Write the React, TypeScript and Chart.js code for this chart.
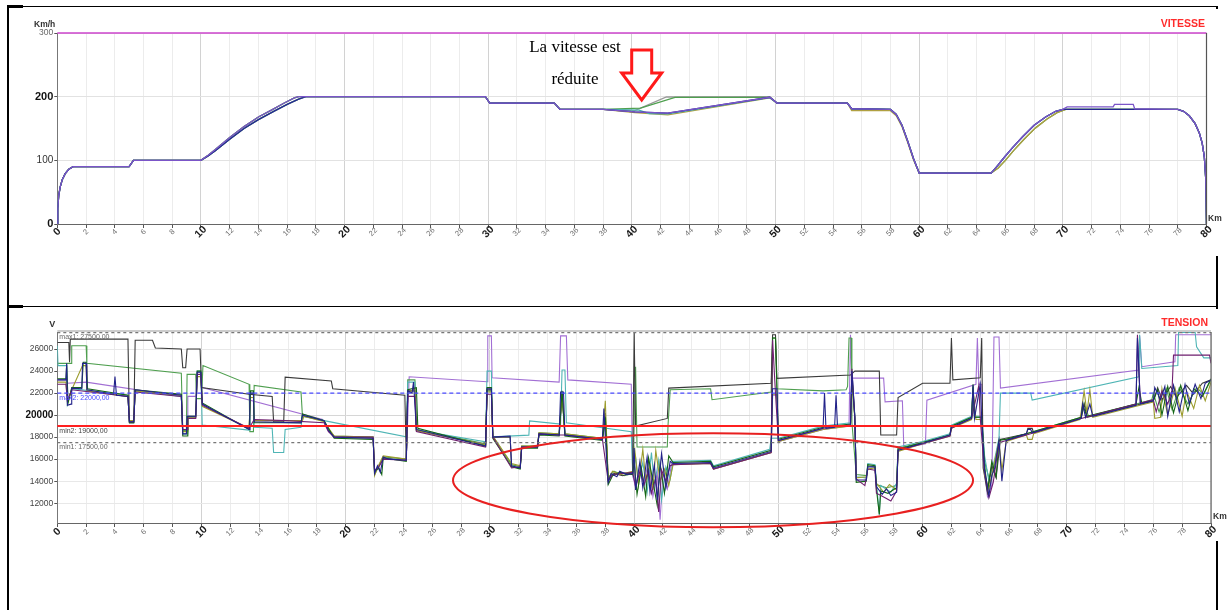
import React, { useEffect, useRef } from 'react';
import { Chart, registerables } from 'chart.js';

Chart.register(...registerables);
Chart.defaults.font.family = '"Liberation Sans", Arial, sans-serif';

// ---------- axes ----------
const kmTicks = [0, 2, 4, 6, 8, 10, 12, 14, 16, 18, 20, 22, 24, 26, 28, 30, 32, 34, 36, 38, 40, 42, 44, 46, 48, 50, 52, 54, 56, 58, 60, 62, 64, 66, 68, 70, 72, 74, 76, 78, 80];
const speedTicks = [0, 100, 200, 300];
const voltTicks = [12000, 14000, 16000, 18000, 20000, 22000, 24000, 26000];

// ---------- reference levels (tension) ----------
const refValues = [27500, 22000, 19000, 17500];
const refLabels = ['max1: 27500,00', 'max2: 22000,00', 'min2: 19000,00', 'min1: 17500,00'];

// ---------- highlighted zone (km, V) ----------
const zoneCenter = [45.47, 14090];
const zoneRadius = [18.03, 4270];

// ---------- speed profile segments (km, km/h) ----------
const speedStart = [[0, 0], [0.03, 25], [0.1, 45], [0.2, 58], [0.35, 70], [0.55, 79], [0.8, 86], [1.1, 90], [5.0, 90], [5.3, 100], [10.0, 100]];
const speedRampA = [[10.5, 108], [11, 117], [12, 136], [13, 153], [14, 168], [15, 180], [15.8, 190], [16.5, 198], [16.8, 200]];
const speedRampB = [[10.5, 107], [11, 115], [12, 133], [13, 150], [14, 164], [15, 176], [16, 188], [16.8, 196], [17.3, 200]];
const speedPlateau = [[29.8, 200], [30.1, 190], [34.6, 190], [35.0, 180], [38.0, 180]];
const speedMidMain = [[40.2, 176], [42.5, 174], [49.6, 199]];
const speedMidLow = [[40.2, 175], [42.5, 171.5], [49.6, 198]];
const speedMidGreen = [[40.6, 182], [43.0, 199], [49.6, 199]];
const speedMidGray = [[40.2, 178], [42.4, 199.5], [49.6, 200]];
const speedMidTeal = [[40.5, 179], [41.2, 173.5], [42.5, 173], [49.6, 198.5]];
const speedDecel = [[50.1, 190], [55.0, 190], [55.3, 181], [58.0, 180], [58.4, 172], [58.8, 155], [59.2, 130], [59.6, 103], [60.0, 80], [65.0, 80]];
const speedDecelLow = [[50.1, 190], [55.0, 190], [55.3, 178], [58.0, 178], [58.4, 170], [58.8, 153], [59.2, 128], [59.6, 101], [60.0, 80], [65.0, 80]];
const speedAccelA = [[65.4, 90], [65.9, 104], [66.5, 120], [67.2, 137], [68.0, 155], [68.8, 168], [69.5, 177], [70, 180]];
const speedAccelB = [[65.5, 88], [66, 100], [66.6, 116], [67.3, 133], [68.1, 151], [68.9, 165], [69.6, 175], [70.2, 180]];
const speedCruise = [[78, 180]];
const speedCruiseHigh = [[70.3, 184], [73.5, 184], [73.6, 188], [74.9, 188], [75.0, 181], [78, 180]];
const speedStop = [[78.4, 177], [78.8, 170], [79.2, 158], [79.5, 143], [79.7, 127], [79.85, 105], [79.95, 70], [80, 0]];

const speedPurple = [...speedStart, ...speedRampA, ...speedPlateau, ...speedMidMain, ...speedDecel, ...speedAccelA, ...speedCruiseHigh, ...speedStop];
const speedNavy = [...speedStart, ...speedRampB, ...speedPlateau, ...speedMidMain, ...speedDecel, ...speedAccelA, ...speedCruise, ...speedStop];
const speedTeal = [...speedStart, ...speedRampB, ...speedPlateau, ...speedMidTeal, ...speedDecel, ...speedAccelA, ...speedCruise, ...speedStop];
const speedOlive = [...speedStart, ...speedRampB, ...speedPlateau, ...speedMidLow, ...speedDecelLow, ...speedAccelB, ...speedCruise, ...speedStop];
const speedGreen = [...speedStart, ...speedRampA, ...speedPlateau, ...speedMidGreen, ...speedDecel, ...speedAccelB, ...speedCruise, ...speedStop];
const speedGray = [...speedStart, ...speedRampA, ...speedPlateau, ...speedMidGray, ...speedDecel, ...speedAccelA, ...speedCruise, ...speedStop];

// ---------- tension series (km, V) ----------
const vNavy = [[0, 23200], [0.6, 23200], [0.65, 24700], [0.7, 20900], [0.95, 21000], [1.0, 22450], [1.7, 22400], [1.75, 24700], [2.0, 24700], [2.05, 22300], [3.9, 21900], [4.0, 23500], [4.1, 21800], [4.9, 21700], [5.0, 19400], [5.3, 19400], [5.4, 22300], [8.6, 21800], [8.7, 18300], [8.95, 18300], [9.0, 19900], [9.6, 19900], [9.7, 23900], [9.95, 23900], [10.05, 21000], [13.3, 18700], [13.35, 22000], [13.6, 22000], [13.65, 19400], [16.9, 19300], [17.0, 20000], [18.5, 19500], [18.8, 18600], [19.2, 18000], [21.9, 17900], [22.0, 14700], [22.2, 15400], [22.4, 14800], [22.6, 16200], [23.0, 16000], [24.2, 15900], [24.3, 22200], [24.6, 22000], [24.7, 23000], [24.9, 18700], [29.7, 17200], [29.8, 22400], [30.1, 22400], [30.2, 18000], [31.4, 18100], [31.5, 15400], [32.1, 15200], [32.2, 17100], [33.3, 17100], [33.4, 18300], [34.8, 18200], [34.9, 22100], [35.1, 22100], [35.2, 18200], [37.8, 17800], [37.9, 20600], [38.0, 18000], [38.2, 13900], [38.4, 14700], [38.8, 14400], [39.0, 14900], [39.5, 14600], [39.9, 14700], [40.0, 17000], [40.1, 13200], [40.4, 15800], [40.6, 13400], [40.9, 16200], [41.1, 13000], [41.4, 15500], [41.6, 12300], [41.9, 16500], [42.2, 13400], [42.5, 15800], [42.7, 15600], [45.3, 15700], [45.5, 15200], [49.5, 16700], [49.6, 22400], [49.9, 22400], [50.0, 17700], [53.1, 18800], [53.2, 22000], [53.3, 18800], [53.9, 18900], [54.0, 21800], [54.1, 19000], [55.0, 19100], [55.1, 24000], [55.3, 19900], [55.4, 14100], [56.1, 14100], [56.2, 15300], [56.7, 15300], [56.8, 13500], [57.2, 12800], [57.5, 13300], [57.8, 12700], [58.2, 13000], [58.3, 16800], [60.0, 17450], [61.9, 18200], [62.0, 18900], [63.4, 19700], [63.5, 22700], [63.6, 19700], [64.0, 22800], [64.1, 19700], [64.3, 15000], [64.6, 12700], [64.8, 14500], [65.0, 15200], [65.3, 17700], [65.5, 14000], [65.8, 17700], [67.2, 18300], [67.3, 18700], [67.5, 18700], [67.6, 18400], [71.0, 19700], [71.1, 21000], [71.3, 19800], [71.6, 21000], [71.8, 19900], [74.8, 20900], [74.9, 27000], [75.1, 21000], [76.0, 21300], [76.1, 22500], [76.5, 21400], [76.8, 22600], [77.0, 19900], [77.4, 22700], [77.8, 20300], [78.2, 22800], [78.5, 21000], [78.9, 22800], [79.3, 21500], [79.6, 22900], [80.0, 23200]];

const vOlive = [[0, 23000], [0.6, 23000], [0.7, 21200], [1.0, 22300], [1.75, 24500], [2.0, 24500], [2.05, 22200], [4.9, 21700], [5.0, 19500], [5.3, 19500], [5.4, 22200], [8.6, 21800], [8.7, 18500], [9.0, 18500], [9.05, 19800], [9.6, 19800], [9.7, 23500], [9.95, 23500], [10.05, 20800], [13.3, 18800], [13.4, 21600], [13.6, 21600], [13.65, 19500], [17.0, 19500], [17.1, 19900], [18.5, 19400], [19.2, 18100], [21.9, 18000], [22.0, 14500], [22.3, 15500], [22.6, 16300], [24.2, 16000], [24.3, 22000], [24.8, 22400], [24.9, 18600], [29.7, 17300], [29.8, 22100], [30.1, 22100], [30.2, 18100], [31.5, 15600], [32.1, 15400], [32.2, 17200], [33.3, 17200], [33.4, 18400], [34.8, 18300], [35.0, 21800], [35.2, 18300], [37.8, 17900], [38.0, 21300], [38.2, 14200], [38.5, 14900], [39.0, 14600], [39.9, 14900], [40.05, 16800], [40.3, 13600], [40.6, 16900], [40.8, 14100], [41.1, 15400], [41.3, 13200], [41.5, 16800], [41.8, 14000], [42.1, 15100], [42.4, 13600], [42.7, 15500], [45.3, 15600], [45.5, 15100], [49.5, 16600], [49.6, 21900], [49.9, 21900], [50.0, 17600], [53.1, 18700], [55.0, 19000], [55.1, 23000], [55.3, 19700], [55.4, 14300], [56.1, 14400], [56.2, 15100], [56.7, 15200], [56.8, 13800], [57.3, 13000], [57.7, 13700], [58.2, 13200], [58.3, 16700], [60, 17400], [61.9, 18100], [62.0, 18800], [63.4, 19600], [63.5, 22300], [63.7, 19600], [64.1, 19600], [64.3, 14600], [64.6, 13300], [64.9, 15200], [65.3, 17600], [65.5, 15000], [65.8, 17600], [67.2, 18200], [67.3, 17800], [67.6, 17800], [67.7, 18300], [70.9, 19600], [71.0, 20300], [71.2, 22200], [71.4, 20200], [71.6, 22300], [71.8, 19800], [74.8, 20800], [76.0, 21200], [76.1, 19700], [76.5, 19800], [76.6, 22400], [77.0, 20000], [77.5, 22500], [78.0, 19900], [78.3, 22200], [78.8, 20600], [79.2, 22700], [79.6, 21300], [80, 23000]];

const vDarkGreen = [[0, 23300], [0.6, 23300], [0.65, 24600], [0.75, 21100], [1.0, 22500], [1.7, 22500], [1.8, 24800], [2.0, 24800], [2.1, 22400], [4.9, 21800], [5.0, 19300], [5.3, 19300], [5.4, 22300], [8.6, 21900], [8.7, 18100], [9.0, 18100], [9.05, 19900], [9.6, 19900], [9.7, 24000], [9.95, 24000], [10.05, 21100], [13.3, 18700], [13.4, 22200], [13.6, 22200], [13.65, 19300], [16.9, 19300], [17.0, 20100], [18.5, 19500], [19.2, 17900], [21.9, 17800], [22.0, 14900], [22.3, 15200], [22.5, 14600], [22.6, 16100], [24.2, 15800], [24.3, 22300], [24.9, 22500], [25.0, 18800], [29.7, 17200], [29.8, 22500], [30.1, 22500], [30.2, 17900], [31.5, 15300], [32.1, 15100], [32.2, 17000], [33.3, 17000], [33.4, 18200], [34.8, 18100], [35.0, 22200], [35.2, 18100], [37.8, 17700], [38.0, 19800], [38.2, 13700], [38.5, 14500], [39.0, 14800], [39.9, 14600], [40.0, 15800], [40.2, 12800], [40.5, 15200], [40.8, 12600], [41.0, 16100], [41.3, 14000], [41.6, 11800], [41.8, 15600], [42.1, 12900], [42.4, 16300], [42.7, 15700], [45.3, 15800], [45.5, 15300], [49.5, 16800], [49.6, 27000], [49.8, 27000], [49.9, 22500], [50.0, 17800], [53.1, 18900], [55.0, 19200], [55.1, 23500], [55.3, 19800], [55.4, 13900], [56.1, 14000], [56.2, 15500], [56.7, 15400], [56.8, 13300], [57.0, 11000], [57.1, 13100], [57.6, 12900], [58.2, 13400], [58.3, 16900], [60.0, 17500], [61.9, 18200], [62.0, 19000], [63.4, 19800], [63.5, 22800], [63.6, 19800], [64.1, 19800], [64.3, 15500], [64.5, 13100], [64.8, 15800], [65.1, 14400], [65.3, 17700], [65.8, 17800], [67.2, 18300], [71.0, 19800], [71.1, 20900], [71.4, 19900], [74.8, 21000], [75.0, 22500], [75.2, 21100], [76.0, 21300], [76.3, 22300], [76.6, 20000], [77.0, 22600], [77.4, 20200], [77.9, 22700], [78.4, 20400], [78.8, 22400], [79.4, 21700], [80, 23300]];

const vPlum = [[0, 22800], [0.6, 22800], [0.7, 21300], [1.0, 22300], [4.9, 21700], [5.0, 19400], [5.3, 19400], [5.4, 22100], [8.6, 21700], [8.7, 18700], [9.0, 18700], [9.05, 19700], [9.6, 19700], [9.7, 23700], [9.95, 23700], [10.05, 20900], [13.3, 18800], [13.65, 19600], [15.8, 19500], [18.5, 19300], [18.8, 18500], [19.2, 18000], [21.9, 18000], [22.0, 15000], [22.3, 15300], [22.6, 16000], [24.2, 15900], [24.3, 21700], [24.8, 21700], [24.9, 18500], [29.7, 17100], [29.8, 21900], [30.1, 21900], [30.2, 18000], [31.5, 15200], [32.1, 15300], [32.2, 17100], [33.3, 17100], [33.4, 18300], [34.8, 18200], [35.2, 18200], [37.8, 17800], [38.2, 14000], [38.5, 14600], [39.9, 14800], [40.1, 13500], [40.4, 14900], [40.7, 13700], [41.0, 15000], [41.2, 12900], [41.5, 14300], [41.7, 11200], [41.9, 15000], [42.2, 14000], [42.5, 15400], [42.7, 15500], [45.3, 15600], [45.5, 15100], [49.5, 16600], [49.6, 26800], [49.8, 22000], [50.0, 17700], [53.1, 18800], [55.0, 19100], [55.1, 24200], [55.3, 19800], [55.4, 14200], [56.0, 13600], [56.2, 15100], [56.7, 15000], [56.8, 12900], [57.4, 12500], [57.8, 12200], [58.2, 13100], [58.3, 16800], [60.0, 17400], [61.9, 18100], [62.0, 18800], [63.4, 19700], [63.9, 22700], [64.0, 19700], [64.3, 14800], [64.6, 12500], [64.9, 13900], [65.3, 17500], [65.8, 17700], [67.2, 18200], [71.0, 19700], [74.8, 21000], [74.9, 27300], [75.1, 21100], [76.0, 21400], [76.2, 20300], [76.6, 22200], [77.0, 21000], [77.3, 22300], [77.4, 25450], [79.9, 25450], [80, 24700]];

const vBlack = [[0, 26600], [0.8, 26600], [0.85, 24800], [0.9, 26900], [4.9, 26900], [5.0, 19300], [5.3, 19300], [5.4, 26800], [6.6, 26800], [6.8, 26100], [8.6, 26000], [8.7, 24300], [8.9, 24300], [9.0, 26000], [9.9, 26000], [10.0, 22500], [13.3, 21900], [14.9, 21700], [15.0, 19400], [15.7, 19400], [15.8, 23450], [19.0, 23100], [19.1, 22400], [24.1, 21800], [24.2, 15900], [24.3, 22200], [24.8, 22200], [24.9, 18600], [29.7, 17300], [29.8, 22300], [30.1, 22300], [30.2, 18000], [31.4, 18000], [31.5, 15300], [32.1, 15200], [32.2, 17100], [33.3, 17100], [33.4, 18300], [34.8, 18200], [35.0, 22000], [35.2, 18200], [37.8, 17800], [38.0, 20200], [38.2, 14100], [38.6, 14700], [39.2, 14500], [39.9, 14800], [40.0, 27500], [40.1, 19000], [42.3, 19700], [42.4, 22450], [49.5, 22900], [49.6, 27300], [49.8, 27300], [49.9, 23340], [55.0, 23640], [55.3, 24000], [57.0, 24000], [57.1, 18200], [58.2, 18200], [58.3, 21600], [60.0, 22900], [61.9, 22900], [62.0, 27000], [62.1, 23200], [64.0, 23400], [64.1, 27000], [64.2, 15200], [64.5, 13000], [64.8, 15400], [65.1, 14300], [65.4, 17800], [67.2, 18300], [67.3, 18800], [67.6, 18800], [67.7, 18400], [71.0, 19700], [71.2, 21000], [71.4, 19800], [74.8, 20900], [76.0, 21300], [76.3, 22500], [76.6, 21400], [77.2, 22600], [77.6, 21600], [78.3, 22700], [78.8, 21900], [79.4, 22900], [80, 23200]];

const vTeal = [[0, 26300], [0.05, 24500], [0.65, 24500], [0.7, 21000], [1.0, 22400], [4.9, 21800], [5.0, 19300], [5.3, 19300], [5.4, 22200], [8.6, 21700], [8.7, 18300], [9.0, 18300], [9.05, 19800], [9.6, 19800], [9.7, 24000], [9.95, 24000], [10.05, 19100], [13.3, 18640], [13.35, 22000], [13.6, 22000], [13.65, 18900], [14.9, 18800], [15.0, 16600], [15.7, 16600], [15.8, 18700], [16.9, 18900], [17.0, 20000], [18.5, 19500], [24.2, 18030], [24.3, 23000], [24.8, 23000], [24.9, 18640], [29.7, 17570], [29.8, 24000], [30.1, 24000], [30.2, 18030], [32.7, 18180], [32.75, 19480], [34.9, 19180], [35.0, 24100], [35.2, 24100], [35.3, 19300], [39.8, 18500], [39.9, 14700], [40.1, 16200], [40.3, 13900], [40.6, 15700], [40.9, 13000], [41.2, 16600], [41.4, 13600], [41.7, 15900], [41.9, 12300], [42.2, 15300], [42.5, 14200], [42.7, 15800], [45.3, 15900], [45.5, 15400], [49.4, 16900], [49.5, 17900], [50.0, 17900], [53.1, 19000], [55.0, 19300], [55.1, 24000], [55.3, 20000], [55.4, 14400], [56.1, 14300], [56.2, 15600], [56.7, 15500], [56.8, 13900], [57.0, 10900], [57.1, 13600], [57.8, 13000], [58.2, 13800], [58.3, 17100], [60.0, 17600], [61.9, 18300], [62.0, 19100], [63.4, 19900], [63.5, 22500], [63.6, 19900], [64.1, 19900], [64.3, 16300], [64.6, 14000], [65.0, 16000], [65.3, 17900], [65.4, 22000], [67.5, 22000], [67.6, 21360], [75.0, 23480], [75.05, 27300], [75.2, 24240], [77.7, 24500], [77.75, 27500], [78.9, 27500], [79.0, 26200], [79.5, 25200], [80, 25200]];

const vGreen = [[0, 24700], [0.95, 24700], [1.0, 26300], [2.0, 26300], [2.05, 24700], [8.6, 23800], [8.7, 18600], [8.95, 18600], [9.0, 23700], [9.6, 23700], [9.65, 21500], [10.0, 21500], [10.1, 24500], [13.3, 22800], [13.35, 18500], [13.6, 18500], [13.65, 22700], [16.9, 22100], [17.0, 19900], [18.5, 19500], [18.8, 18700], [19.2, 18100], [21.9, 18000], [22.0, 14600], [22.3, 15400], [22.6, 16200], [24.2, 16000], [24.3, 23200], [24.8, 23200], [24.9, 18700], [29.7, 17400], [29.8, 22200], [30.1, 22200], [30.2, 18100], [31.5, 15500], [32.1, 15300], [32.2, 17200], [33.3, 17200], [33.4, 18400], [34.8, 18300], [35.0, 22100], [35.2, 18300], [37.8, 17900], [38.0, 19500], [38.2, 14300], [38.6, 14900], [39.3, 14500], [39.9, 14700], [40.1, 24400], [40.2, 17100], [42.3, 17100], [42.35, 19100], [42.5, 22300], [45.3, 22400], [45.4, 21400], [49.5, 22100], [49.6, 27000], [49.8, 27000], [49.9, 22400], [53.1, 22200], [54.7, 22300], [54.8, 22600], [54.9, 27000], [55.05, 27000], [55.1, 19300], [55.4, 14600], [56.1, 14500], [56.2, 15400], [56.7, 15300], [56.8, 13700], [57.5, 13400], [58.2, 13600], [58.3, 17000], [60.0, 17500], [61.9, 18200], [62.0, 19000], [63.4, 19800], [63.5, 22600], [63.6, 19800], [64.1, 19800], [64.3, 15800], [64.7, 13800], [65.0, 15600], [65.3, 17800], [65.8, 17800], [67.2, 18300], [71.0, 19800], [71.2, 21100], [71.5, 19900], [74.8, 21000], [75.9, 21400], [76.0, 22000], [76.4, 20300], [76.9, 22400], [77.3, 20500], [77.8, 22500], [78.4, 21000], [79.0, 22500], [79.5, 21900], [80, 23200]];

const vPurple = [[0, 23200], [0.6, 23200], [0.7, 22900], [2.0, 23000], [8.6, 21700], [8.7, 18600], [9.0, 18600], [9.05, 21700], [9.6, 21700], [9.7, 23900], [10.0, 23900], [10.05, 22500], [18.4, 19600], [18.8, 18600], [19.2, 18000], [21.9, 17900], [22.0, 14800], [22.3, 15400], [22.6, 16100], [24.2, 15900], [24.4, 23480], [29.8, 23030], [29.85, 27200], [30.1, 27200], [30.15, 23400], [34.8, 23000], [34.9, 27200], [35.3, 27200], [35.4, 23200], [39.8, 22800], [39.9, 14600], [40.1, 13400], [40.4, 15300], [40.7, 13800], [41.0, 16000], [41.3, 12600], [41.6, 14800], [41.8, 10500], [42.0, 14700], [42.3, 13300], [42.6, 15600], [45.3, 15600], [45.5, 15100], [49.5, 16600], [49.6, 21800], [49.9, 21800], [50.0, 17600], [53.1, 18700], [54.9, 19000], [55.0, 27300], [55.1, 23360], [57.3, 23360], [57.4, 21200], [58.6, 21300], [58.7, 17000], [60.2, 17400], [60.3, 21360], [63.7, 22800], [63.8, 27000], [63.9, 22800], [64.1, 22800], [64.2, 16000], [64.5, 12600], [64.8, 13600], [64.95, 27100], [65.3, 27100], [65.4, 22450], [75.0, 24090], [75.05, 27200], [75.2, 24400], [77.5, 24850], [77.55, 27300], [80, 27300]];

// ---------- helpers ----------
const pts = (arr: number[][]) => arr.map(([x, y]) => ({ x, y }));
const FONT = '"Liberation Sans", Arial, sans-serif';

function drawKmLabels(chart: any, offset: number) {
  const { ctx, chartArea } = chart;
  const xs = chart.scales.x;
  kmTicks.forEach((v) => {
    const px = xs.getPixelForValue(v);
    const major = v % 10 === 0;
    ctx.save();
    ctx.translate(px, chartArea.bottom + offset);
    ctx.rotate(-Math.PI / 4);
    ctx.font = major ? `bold 10.5px ${FONT}` : `7.5px ${FONT}`;
    ctx.fillStyle = major ? '#1a1a1a' : '#6f6f6f';
    ctx.textAlign = 'center';
    ctx.textBaseline = 'middle';
    ctx.fillText(String(v), 0, 0);
    ctx.restore();
  });
}

function text(ctx: any, s: string, x: number, y: number, font: string, color: string, align: string) {
  ctx.save();
  ctx.font = font;
  ctx.fillStyle = color;
  ctx.textAlign = align;
  ctx.textBaseline = 'middle';
  ctx.fillText(s, x, y);
  ctx.restore();
}

function line(ctx: any, x1: number, y1: number, x2: number, y2: number, color: string, w: number, dash: number[] = []) {
  ctx.save();
  ctx.beginPath();
  ctx.setLineDash(dash);
  ctx.strokeStyle = color;
  ctx.lineWidth = w;
  ctx.moveTo(x1, y1);
  ctx.lineTo(x2, y2);
  ctx.stroke();
  ctx.restore();
}

const xGridColor = (c: any) => (c.tick && c.tick.value % 10 === 0 ? '#d2d2d2' : '#ececec');
const plainLabel = (v: any) => String(v);

export default function App() {
  const topRef = useRef<HTMLCanvasElement>(null);
  const botRef = useRef<HTMLCanvasElement>(null);

  useEffect(() => {
    const speedSets = [
      { d: speedPurple, c: '#7b55c8' },
      { d: speedNavy, c: '#262690' },
      { d: speedTeal, c: '#45b0b0' },
      { d: speedOlive, c: '#b0a040' },
      { d: speedGreen, c: '#4fa04f' },
      { d: speedGray, c: '#9a9a9a' },
    ];

    const topPlugin = {
      id: 'topDecor',
      afterDraw(chart: any) {
        const { ctx, chartArea: a } = chart;
        line(ctx, a.left, a.top, a.right, a.top, '#cc44cc', 1.5);
        line(ctx, a.right, a.top, a.right, a.bottom, '#555', 1.2);
        drawKmLabels(chart, 8);
        text(ctx, 'Km/h', a.left - 2, a.top - 8, `bold 8.5px ${FONT}`, '#333', 'right');
        text(ctx, 'VITESSE', a.right - 1.5, a.top - 8.5, `bold 10.5px ${FONT}`, '#ff2b2b', 'right');
        text(ctx, 'Km', a.right + 1.5, a.bottom - 5, `bold 8.5px ${FONT}`, '#333', 'left');
      },
    };

    const top = new Chart(topRef.current as HTMLCanvasElement, {
      type: 'line',
      data: {
        datasets: speedSets.map((s) => ({
          data: pts(s.d),
          borderColor: s.c,
          borderWidth: 1.3,
          pointRadius: 0,
          fill: false,
          tension: 0,
        })),
      },
      options: {
        animation: false,
        responsive: false,
        maintainAspectRatio: false,
        events: [],
        layout: { padding: { left: 0, right: 21.5, top: 24, bottom: 0 } },
        plugins: { legend: { display: false }, tooltip: { enabled: false } },
        scales: {
          x: {
            type: 'linear',
            min: 0,
            max: 80,
            afterBuildTicks: (ax: any) => { ax.ticks = kmTicks.map((v) => ({ value: v })); },
            afterFit: (ax: any) => { ax.height = 32; },
            ticks: { display: false },
            grid: { color: xGridColor, tickLength: 4, tickColor: '#555' },
            border: { color: '#666' },
          },
          y: {
            type: 'linear',
            min: 0,
            max: 300,
            afterBuildTicks: (ax: any) => { ax.ticks = speedTicks.map((v) => ({ value: v })); },
            afterFit: (ax: any) => { ax.width = 47.3; },
            grid: { color: '#e2e2e2', tickLength: 3, tickColor: '#555' },
            border: { color: '#777' },
            ticks: {
              padding: 1,
              callback: plainLabel,
              font: (c: any) => {
                const v = c.tick ? c.tick.value : 0;
                if (v === 200 || v === 0) return { size: 11, weight: 'bold' };
                if (v === 300) return { size: 8.5 };
                return { size: 10 };
              },
              color: (c: any) => {
                const v = c.tick ? c.tick.value : 0;
                if (v === 200 || v === 0) return '#111';
                if (v === 300) return '#666';
                return '#333';
              },
            },
          },
        },
      } as any,
      plugins: [topPlugin],
    });

    const voltSets = [
      { d: vNavy, c: '#23238a' },
      { d: vPlum, c: '#6f1f6f' },
      { d: vDarkGreen, c: '#156615' },
      { d: vOlive, c: '#9c9c2e' },
      { d: vBlack, c: '#3a3a3a' },
      { d: vTeal, c: '#4fb5b5' },
      { d: vGreen, c: '#4f9f4f' },
      { d: vPurple, c: '#a26fd4' },
    ];

    const refStyle = [
      { color: '#777', width: 1.2, dash: [3, 3], txt: '#666' },
      { color: '#4a4aff', width: 1.4, dash: [4, 3], txt: '#4a4aff' },
      { color: '#ff2020', width: 2, dash: [], txt: '#444' },
      { color: '#777', width: 1.2, dash: [3, 3], txt: '#666' },
    ];

    const botPlugin = {
      id: 'botDecor',
      afterDatasetsDraw(chart: any) {
        const { ctx, chartArea: a } = chart;
        const ys = chart.scales.y;
        refValues.forEach((v, i) => {
          const y = ys.getPixelForValue(v);
          const st = refStyle[i];
          line(ctx, a.left, y, a.right, y, st.color, st.width, st.dash);
          ctx.save();
          ctx.font = `7px ${FONT}`;
          ctx.fillStyle = st.txt;
          ctx.textAlign = 'left';
          ctx.textBaseline = 'top';
          ctx.fillText(refLabels[i], a.left + 2, y + 1);
          ctx.restore();
        });
      },
      afterDraw(chart: any) {
        const { ctx, chartArea: a } = chart;
        const xs = chart.scales.x;
        const ys = chart.scales.y;
        line(ctx, a.left, a.top - 1, a.right, a.top - 1, '#999', 1);
        line(ctx, a.right, a.top, a.right, a.bottom, '#666', 1.2);
        drawKmLabels(chart, 9);
        text(ctx, 'V', a.left - 2, a.top - 7.5, `bold 9px ${FONT}`, '#333', 'right');
        text(ctx, 'TENSION', a.right - 3, a.top - 9, `bold 10.5px ${FONT}`, '#ff2b2b', 'right');
        text(ctx, 'Km', a.right + 2, a.bottom - 6, `bold 8.5px ${FONT}`, '#333', 'left');
        const cx = xs.getPixelForValue(zoneCenter[0]);
        const cy = ys.getPixelForValue(zoneCenter[1]);
        const rx = xs.getPixelForValue(zoneCenter[0] + zoneRadius[0]) - cx;
        const ry = cy - ys.getPixelForValue(zoneCenter[1] + zoneRadius[1]);
        ctx.save();
        ctx.beginPath();
        ctx.ellipse(cx, cy, rx, ry, 0, 0, Math.PI * 2);
        ctx.strokeStyle = '#e82020';
        ctx.lineWidth = 2;
        ctx.stroke();
        ctx.restore();
      },
    };

    const bot = new Chart(botRef.current as HTMLCanvasElement, {
      type: 'line',
      data: {
        datasets: voltSets.map((s) => ({
          data: pts(s.d),
          borderColor: s.c,
          borderWidth: 1.1,
          pointRadius: 0,
          fill: false,
          tension: 0,
        })),
      },
      options: {
        animation: false,
        responsive: false,
        maintainAspectRatio: false,
        events: [],
        layout: { padding: { left: 0, right: 17, top: 23, bottom: 0 } },
        plugins: { legend: { display: false }, tooltip: { enabled: false } },
        scales: {
          x: {
            type: 'linear',
            min: 0,
            max: 80,
            afterBuildTicks: (ax: any) => { ax.ticks = kmTicks.map((v) => ({ value: v })); },
            afterFit: (ax: any) => { ax.height = 18; },
            ticks: { display: false },
            grid: { color: xGridColor, tickLength: 4, tickColor: '#555' },
            border: { color: '#666' },
          },
          y: {
            type: 'linear',
            min: 10200,
            max: 27550,
            afterBuildTicks: (ax: any) => { ax.ticks = voltTicks.map((v) => ({ value: v })); },
            afterFit: (ax: any) => { ax.width = 47.3; },
            grid: { color: (c: any) => (c.tick && c.tick.value === 20000 ? '#d6d6d6' : '#e8e8e8'), tickLength: 3, tickColor: '#555' },
            border: { color: '#777' },
            ticks: {
              padding: 1,
              callback: plainLabel,
              font: (c: any) => (c.tick && c.tick.value === 20000 ? { size: 10, weight: 'bold' } : { size: 8.5 }),
              color: (c: any) => (c.tick && c.tick.value === 20000 ? '#111' : '#444'),
            },
          },
        },
      } as any,
      plugins: [botPlugin],
    });

    return () => {
      top.destroy();
      bot.destroy();
    };
  }, []);

  const abs = (l: number, t: number, w: number, h: number, extra: any = {}) => ({
    position: 'absolute' as const, left: l, top: t, width: w, height: h, ...extra,
  });

  return (
    <div style={{ position: 'fixed', left: 0, top: 0, width: 1228, height: 610, background: '#fff', overflow: 'hidden' }}>
      <div style={abs(8, 6, 1210, 1, { background: '#000' })} />
      <div style={abs(7, 5, 16, 3, { background: '#000' })} />
      <div style={abs(7, 5, 2, 605, { background: '#000' })} />
      <div style={abs(8, 306, 1210, 1, { background: '#000' })} />
      <div style={abs(7, 305, 16, 3, { background: '#000' })} />
      <div style={abs(1216, 6, 2, 604, { background: '#000' })} />
      <canvas ref={topRef} width={1218} height={247} style={abs(10, 9, 1218, 247, { background: '#fff' })} />
      <canvas ref={botRef} width={1218} height={232} style={abs(10, 309, 1218, 232, { background: '#fff' })} />
      <div style={abs(455, 37, 240, 20, { fontFamily: '"Liberation Serif", "Times New Roman", serif', fontSize: 17, lineHeight: '20px', textAlign: 'center', color: '#000' })}>La vitesse est</div>
      <div style={abs(455, 69, 240, 20, { fontFamily: '"Liberation Serif", "Times New Roman", serif', fontSize: 17, lineHeight: '20px', textAlign: 'center', color: '#000' })}>réduite</div>
      <svg width={1228} height={610} style={abs(0, 0, 1228, 610, { pointerEvents: 'none' })}>
        <polygon points="631.7,50 651.7,50 651.7,73 661.7,73 641.7,100 621.7,73 631.7,73" fill="#fff" stroke="#ff1a1a" strokeWidth={3} />
      </svg>
    </div>
  );
}
